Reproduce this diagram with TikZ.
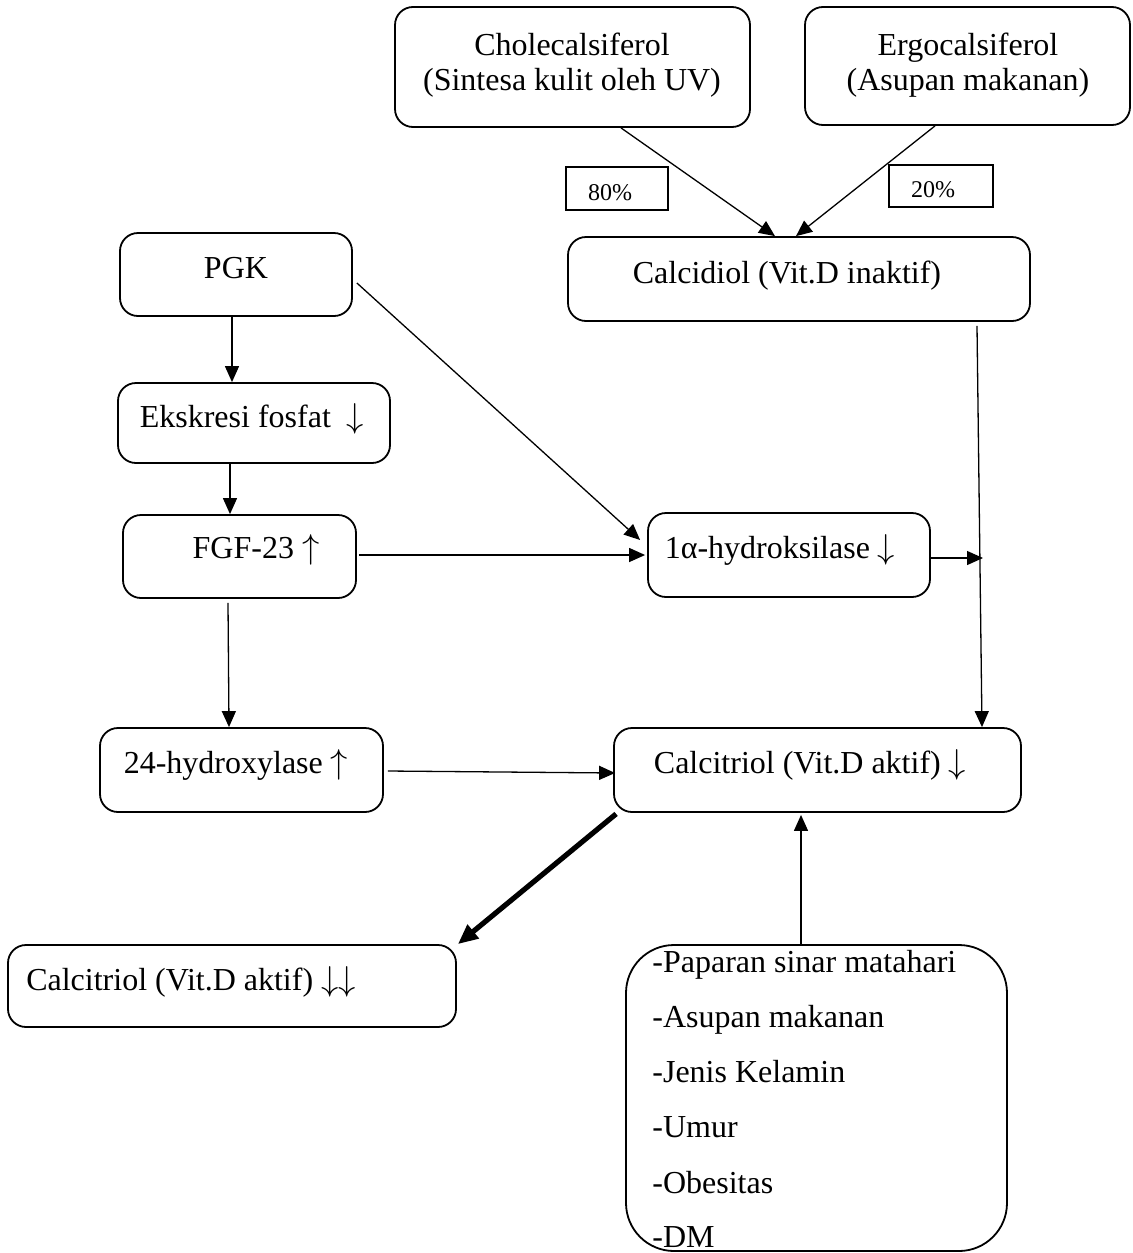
\documentclass[tikz,border=0pt]{standalone}
\usepackage{fontspec}
\setmainfont{Liberation Serif}
\usetikzlibrary{arrows.meta,calc}
\newcommand{\dnar}{$\downarrow$}
\newcommand{\upar}{$\uparrow$}
\begin{document}
\begin{tikzpicture}[x=0.5pt,y=-0.5pt,
  rbox/.style={draw, line width=0.9pt, rounded corners=9pt, inner sep=0pt},
  pbox/.style={draw, line width=0.6pt, inner sep=0pt},
  txt/.style={font=\fontsize{16}{19}\selectfont, anchor=base, inner sep=0pt},
  ltxt/.style={font=\fontsize{16}{19}\selectfont, anchor=base west, inner sep=0pt},
  ptxt/.style={font=\fontsize{12}{14}\selectfont, anchor=base, inner sep=0pt},
  conn/.style={line width=0.65pt, -{Triangle[length=8pt,width=7pt]}},
  thick conn/.style={line width=2.6pt, -{Triangle[length=10pt,width=8.5pt]}}
]
\path[use as bounding box] (0,0) rectangle (1133,1253);

% boxes
\node[rbox, minimum width=177.5pt, minimum height=60pt] (chole) at (572.5,67) {};
\node[rbox, minimum width=162.5pt, minimum height=59pt] (ergo) at (967.5,66) {};
\node[pbox, minimum width=51pt, minimum height=21.5pt] (p80) at (617,188.5) {};
\node[pbox, minimum width=52pt, minimum height=21pt] (p20) at (941,186) {};
\node[rbox, minimum width=231pt, minimum height=42pt] (calcidiol) at (799,279) {};
\node[rbox, minimum width=116pt, minimum height=41.5pt] (pgk) at (236,274.5) {};
\node[rbox, minimum width=136pt, minimum height=40pt] (eks) at (254,423) {};
\node[rbox, minimum width=116.5pt, minimum height=41.5pt] (fgf) at (239.5,556.5) {};
\node[rbox, minimum width=141pt, minimum height=42pt] (alpha) at (789,555) {};
\node[rbox, minimum width=141.5pt, minimum height=42pt] (h24) at (241.5,770) {};
\node[rbox, minimum width=203.5pt, minimum height=42pt] (calcitriol) at (817.5,770) {};
\node[rbox, minimum width=224pt, minimum height=41pt] (calc2) at (232,986) {};
\node[rbox, rounded corners=24pt, minimum width=190.5pt, minimum height=153pt] (factors) at (816.5,1098) {};

% texts
\node[txt] (t-chole1) at (572,55) {Cholecalsiferol};
\node[txt] (t-chole2) at (572,90) {(Sintesa kulit oleh UV)};
\node[txt] (t-ergo1) at (968,55) {Ergocalsiferol};
\node[txt] (t-ergo2) at (968,90) {(Asupan makanan)};
\node[ptxt] (t-p80) at (610,200) {80\%};
\node[ptxt] (t-p20) at (933,197) {20\%};
\node[txt] (t-calcidiol) at (787,283) {Calcidiol (Vit.D inaktif)};
\node[txt] (t-pgk) at (236,278) {PGK};
\node[txt] (t-eks) at (252,427) {Ekskresi fosfat\ \ \dnar};
\node[txt] (t-fgf) at (256,558) {FGF-23 \upar};
\node[txt] (t-alpha) at (780,558) {1α-hydroksilase \dnar};
\node[txt] (t-h24) at (236,773) {24-hydroxylase \upar};
\node[txt] (t-calcitriol) at (810,773) {Calcitriol (Vit.D aktif) \dnar};
\node[txt] (t-calc2) at (191,990) {Calcitriol (Vit.D aktif) \dnar\dnar};
\node[ltxt] (f1) at (652,972) {-Paparan sinar matahari};
\node[ltxt] (f2) at (652,1027) {-Asupan makanan};
\node[ltxt] (f3) at (652,1082) {-Jenis Kelamin};
\node[ltxt] (f4) at (652,1137) {-Umur};
\node[ltxt] (f5) at (652,1193) {-Obesitas};
\node[ltxt] (f6) at (652,1247) {-DM};

\coordinate (j) at (983,558);

% connectors
\draw[conn] ($(chole.south)+(48.5,0)$) -- ($(calcidiol.north)+(-24,0)$);
\draw[conn] ($(ergo.south)+(-32.5,0)$) -- ($(calcidiol.north)+(-3,0)$);
\draw[conn] ($(pgk.east)+(4,8.5)$) -- ($(alpha.west)+(-7,-15)$);
\draw[conn] ($(pgk.south)+(-4,0)$) -- ($(eks.north)+(-22,0)$);
\draw[conn] ($(eks.south)+(-24,0)$) -- ($(fgf.north)+(-9.5,0)$);
\draw[conn] ($(fgf.east)+(2,-1.5)$) -- ($(alpha.west)+(-2,0)$);
\draw[conn] ($(alpha.east)+(0,3)$) -- (j);
\draw[conn] ($(calcidiol.south)+(178,4)$) -- ($(calcitriol.north)+(164.5,0)$);
\draw[conn] ($(fgf.south)+(-11.5,4)$) -- ($(h24.north)+(-12.5,0)$);
\draw[conn] ($(h24.east)+(4,1)$) -- ($(calcitriol.west)+(2,3)$);
\draw[thick conn] ($(calcitriol.south west)+(3,1)$) -- ($(calc2.north east)+(1,0)$);
\draw[conn] ($(factors.north)+(-15.5,0)$) -- ($(calcitriol.south)+(-16.5,2)$);
\end{tikzpicture}
\end{document}
